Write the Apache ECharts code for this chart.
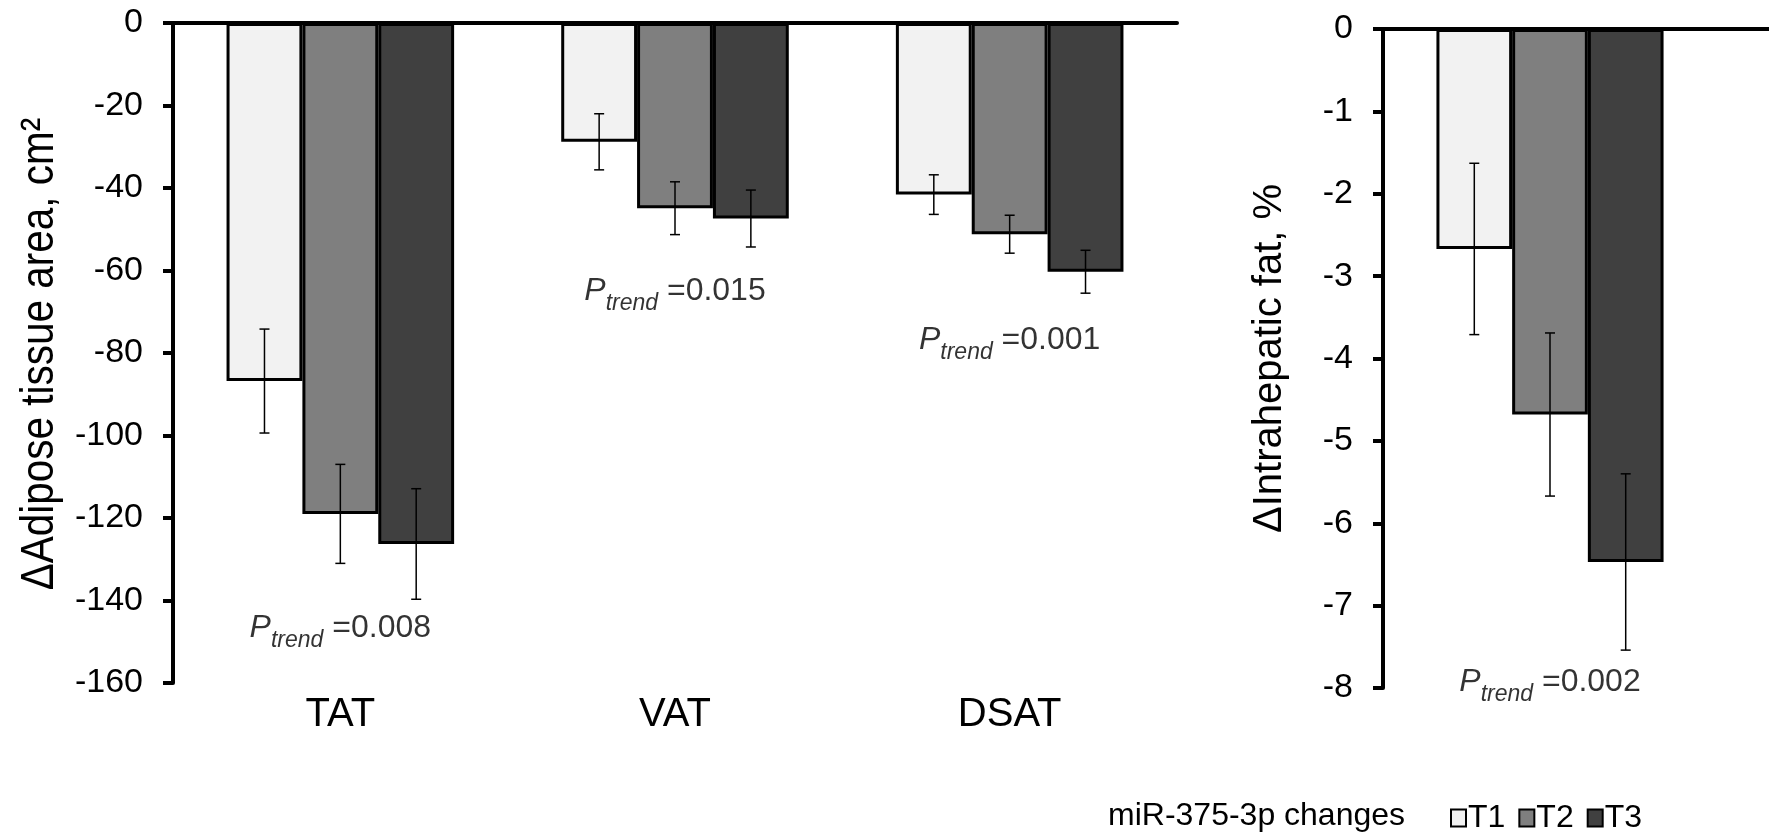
<!DOCTYPE html>
<html>
<head>
<meta charset="utf-8">
<script src="https://cdn.jsdelivr.net/npm/echarts@6/dist/echarts.min.js"></script>
<style>
  html, body { margin: 0; padding: 0; background: #fff; }
  #main { width: 1769px; height: 840px; }
</style>
</head>
<body>
<div id="main"></div>
<script>
// adipose tissue panel
var categories = ['TAT', 'VAT', 'DSAT'];
var t1Area = [-86.8, -28.8, -41.6];
var t2Area = [-119.0, -44.9, -51.2];
var t3Area = [-126.3, -47.4, -60.3];
var t1AreaErr = [12.6, 6.8, 4.8];
var t2AreaErr = [12.0, 6.4, 4.6];
var t3AreaErr = [13.4, 6.9, 5.2];
var areaPtrend = ['0.008', '0.015', '0.001'];
var areaPtrendAt = [-146.2, -64.5, -76.4];

// intrahepatic fat panel
var liverCats = ['Liver'];
var t1Fat = [-2.67];
var t2Fat = [-4.68];
var t3Fat = [-6.47];
var t1FatErr = [1.04];
var t2FatErr = [0.99];
var t3FatErr = [1.07];
var fatPtrend = ['0.002'];
var fatPtrendAt = [-7.9];

var groups = ['T1', 'T2', 'T3'];
var colors = ['#f2f2f2', '#7f7f7f', '#404040'];
var FONT = '"Liberation Sans", Arial, sans-serif';

var chart = echarts.init(document.getElementById('main'));

function errRender(k) {
  return function (params, api) {
    var c = api.value(0);
    var lo = api.coord([c, api.value(1)]);
    var hi = api.coord([c, api.value(2)]);
    var band = api.size([1, 0])[0];
    var bw = band * 0.68 / 3;
    var x = lo[0] + (k - 1) * bw;
    var cap = 5;
    var st = { stroke: '#000', lineWidth: 1.5 };
    return {
      type: 'group',
      children: [
        { type: 'line', shape: { x1: x, y1: lo[1], x2: x, y2: hi[1] }, style: st },
        { type: 'line', shape: { x1: x - cap, y1: lo[1], x2: x + cap, y2: lo[1] }, style: st },
        { type: 'line', shape: { x1: x - cap, y1: hi[1], x2: x + cap, y2: hi[1] }, style: st }
      ]
    };
  };
}

function panelSeries(idx, vals, errs, pText, pAt) {
  var out = [];
  for (var k = 0; k < 3; k++) {
    out.push({
      name: groups[k],
      type: 'bar',
      xAxisIndex: idx * 2,
      yAxisIndex: idx,
      data: vals[k],
      barGap: '0%',
      barCategoryGap: '32%',
      itemStyle: { color: colors[k], borderColor: '#000', borderWidth: 3 },
      emphasis: { disabled: true }
    });
  }
  for (var k = 0; k < 3; k++) {
    out.push({
      type: 'custom',
      xAxisIndex: idx * 2,
      yAxisIndex: idx,
      renderItem: errRender(k),
      encode: { x: 0, y: [1, 2] },
      data: vals[k].map(function (v, i) { return [i, v - errs[k][i], v + errs[k][i]]; }),
      z: 5
    });
  }
  out.push({
    type: 'scatter',
    xAxisIndex: idx * 2,
    yAxisIndex: idx,
    symbolSize: 0,
    data: pText.map(function (t, i) { return { value: [i, pAt[i]], txt: t }; }),
    label: {
      show: true,
      position: 'inside',
      color: '#000',
      textBorderWidth: 0,
      formatter: function (p) { return '{p|P}{s|trend}{v| =' + p.data.txt + '}'; },
      rich: {
        p: { fontFamily: FONT, fontSize: 32, fontStyle: 'italic', color: '#000', verticalAlign: 'bottom', lineHeight: 36 },
        s: { fontFamily: FONT, fontSize: 23, fontStyle: 'italic', color: '#000', verticalAlign: 'bottom', lineHeight: 36, padding: [0, 0, -8, 0] },
        v: { fontFamily: FONT, fontSize: 32, color: '#000', verticalAlign: 'bottom', lineHeight: 36 }
      }
    },
    z: 6
  });
  return out;
}

function yAxis(gi, min, max, interval, name, gap) {
  return {
    type: 'value', gridIndex: gi, min: min, max: max, interval: interval,
    name: name, nameLocation: 'middle', nameGap: gap,
    nameTextStyle: { fontFamily: FONT, fontSize: 40, color: '#000' },
    axisLine: { show: true, onZero: false, lineStyle: { color: '#000', width: 4 } },
    axisTick: { show: true, length: 10, lineStyle: { color: '#000', width: 4 } },
    axisLabel: { fontFamily: FONT, fontSize: 34, color: '#000', margin: 30 },
    splitLine: { show: false }
  };
}

chart.setOption({
  animation: false,
  backgroundColor: '#fff',
  grid: [
    { left: 173, top: 23, width: 1004, height: 660, containLabel: false, outerBoundsMode: 'none' },
    { left: 1383, top: 29, width: 334, height: 659, containLabel: false, outerBoundsMode: 'none' }
  ],
  xAxis: [
    { type: 'category', gridIndex: 0, data: categories,
      axisLine: { onZero: true, lineStyle: { color: '#000', width: 4 } },
      axisTick: { show: false }, axisLabel: { show: false } },
    { type: 'category', gridIndex: 0, data: categories, position: 'bottom',
      axisLine: { show: false, onZero: false }, axisTick: { show: false },
      axisLabel: { fontFamily: FONT, fontSize: 40, color: '#000', margin: 12 } },
    { type: 'category', gridIndex: 1, data: liverCats,
      axisLine: { onZero: true, lineStyle: { color: '#000', width: 4 } },
      axisTick: { show: false }, axisLabel: { show: false } }
  ],
  yAxis: [
    yAxis(0, -160, 0, 20, '', 0),
    yAxis(1, -8, 0, 1, '\u0394Intrahepatic fat, %', 93)
  ],
  legend: {
    data: groups,
    left: 1445, top: 797,
    icon: 'rect', itemWidth: 15, itemHeight: 17, itemGap: 13,
    textStyle: { fontFamily: FONT, fontSize: 32, color: '#000', padding: [0, 0, 0, -3] }
  },
  title: {
    text: 'miR-375-3p changes', left: 1103, top: 795,
    textStyle: { fontFamily: FONT, fontSize: 32, fontWeight: 'normal', color: '#000' }
  },
  graphic: [
    { type: 'line', shape: { x1: 1717, y1: 29, x2: 1769, y2: 29 }, style: { stroke: '#000', lineWidth: 4 } },
    // left axis title is drawn condensed, as in the source figure
    { type: 'text', x: 40, y: 354, rotation: Math.PI / 2, scaleX: 0.88,
      style: { text: '\u0394Adipose tissue area, cm\u00b2', font: '46px ' + FONT, fill: '#000',
               align: 'center', verticalAlign: 'middle' } }
  ],
  series: panelSeries(0, [t1Area, t2Area, t3Area], [t1AreaErr, t2AreaErr, t3AreaErr], areaPtrend, areaPtrendAt)
    .concat(panelSeries(1, [t1Fat, t2Fat, t3Fat], [t1FatErr, t2FatErr, t3FatErr], fatPtrend, fatPtrendAt))
});
</script>
</body>
</html>
